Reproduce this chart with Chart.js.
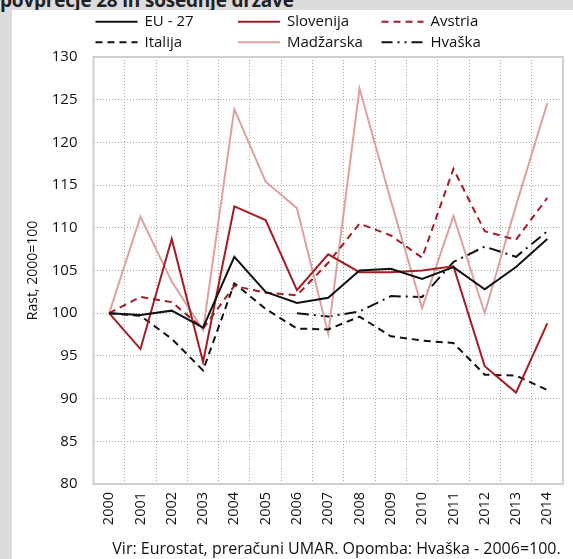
<!DOCTYPE html>
<html>
<head>
<meta charset="utf-8">
<script src="https://cdn.jsdelivr.net/npm/chart.js@4"></script>
<style>
  html, body { margin: 0; padding: 0; }
  body { width: 573px; height: 559px; background: #dcdcdc; position: relative; overflow: hidden;
         font-family: 'Open Sans', sans-serif; }
  #title { position: absolute; left: 0; top: -13px; font: bold 19px 'Open Sans', sans-serif;
           color: #222; white-space: nowrap; letter-spacing: -0.2px; }
  #panel { position: absolute; left: 12px; top: 10px; width: 561px; height: 549px; background: #fff; }
  #wrap { position: absolute; left: 0; top: 0; width: 561px; height: 530px; }
  #note { position: absolute; left: 0; width: 649px; top: 527px; text-align: center;
          font-size: 16px; color: #111; white-space: nowrap; }
</style>
</head>
<body>
<div id="title">povprečje 28 in sosednje države</div>
<div id="panel">
  <div id="wrap"><canvas id="chart" width="561" height="530"></canvas></div>
  <div id="note">Vir: Eurostat, preračuni UMAR. Opomba: Hvaška - 2006=100.</div>
</div>
<script>
(function () {
  'use strict';

  /* ── Data ──────────────────────────────────────────────── */
  const years     = ['2000','2001','2002','2003','2004','2005','2006','2007',
                     '2008','2009','2010','2011','2012','2013','2014'];
  const eu27      = [100, 99.8, 100.3, 98.3, 106.6, 102.5, 101.2, 101.8, 105.0, 105.2, 104.0, 105.4, 102.8, 105.4, 108.7];
  const slovenija = [100, 95.8, 108.7, 94.3, 112.5, 110.9, 102.7, 106.9, 104.8, 104.8, 105.0, 105.5, 93.8, 90.7, 98.8];
  const avstria   = [100, 101.9, 101.3, 98.2, 103.2, 102.4, 102.1, 105.9, 110.5, 109.1, 106.5, 116.9, 109.6, 108.6, 113.5];
  const italija   = [100, 99.7, 97.0, 93.3, 103.5, 100.5, 98.2, 98.1, 99.6, 97.3, 96.8, 96.5, 92.8, 92.7, 91.0];
  const madzarska = [100, 111.3, 103.7, 98.0, 123.9, 115.4, 112.3, 97.6, 126.3, 113.2, 100.6, 111.4, 100.0, 112.6, 124.6];
  const hrvaska   = [null, null, null, null, null, null, 100.0, 99.6, 100.2, 102.0, 101.9, 106.0, 107.8, 106.6, 109.6];

  const yMin = 80, yMax = 130, yStep = 5;

  const RED  = '#a51d24';
  const PINK = '#dfa0a0';
  const BLK  = '#111111';
  const FONT = "'Open Sans', sans-serif";

  Chart.defaults.font.family = FONT;
  Chart.defaults.color = '#111';

  /* ── Grid legend: 3 columns × 2 rows ───────────────────── */
  const legendGrid = {
    id: 'legendGrid',
    afterDraw(chart) {
      const ctx  = chart.ctx;
      const cols = [83.5, 226, 369.5];
      const rows = [11.7, 32.3];
      ctx.save();
      ctx.font = '15px ' + FONT;
      ctx.textBaseline = 'middle';
      ctx.fillStyle = '#111';
      chart.data.datasets.forEach((ds, k) => {
        const x = cols[k % 3], y = rows[Math.floor(k / 3)];
        ctx.beginPath();
        ctx.strokeStyle = ds.borderColor;
        ctx.lineWidth = ds.borderWidth;
        ctx.setLineDash(ds.legendDash || ds.borderDash || []);
        ctx.moveTo(x, y);
        ctx.lineTo(x + 42, y);
        ctx.stroke();
        ctx.setLineDash([]);
        ctx.fillText(ds.label, x + 49, y);
      });
      ctx.restore();
    }
  };

  /* ── Plot frame ────────────────────────────────────────── */
  const frame = {
    id: 'frame',
    beforeDatasetsDraw(chart) {
      const a = chart.chartArea, ctx = chart.ctx;
      ctx.save();
      ctx.strokeStyle = '#cfcfcf';
      ctx.lineWidth = 2;
      ctx.strokeRect(a.left, a.top, a.right - a.left, a.bottom - a.top);
      ctx.restore();
    }
  };

  function line(label, data, color, dash, extra) {
    return Object.assign({
      label, data,
      borderColor: color,
      backgroundColor: color,
      borderWidth: 2,
      borderDash: dash,
      pointRadius: 0,
      tension: 0,
      fill: false,
      spanGaps: false,
    }, extra || {});
  }

  new Chart(document.getElementById('chart'), {
    type: 'line',
    data: {
      labels: years,
      datasets: [
        line('EU - 27',   eu27,      BLK,  []),
        line('Slovenija', slovenija, RED,  []),
        line('Avstria',   avstria,   RED,  [7, 5]),
        line('Italija',   italija,   BLK,  [7, 5]),
        line('Madžarska', madzarska, PINK, []),
        line('Hvaška',    hrvaska,   BLK,  [12, 5, 2, 5], { legendDash: [11, 5, 2, 5, 2, 5] }),
      ]
    },
    options: {
      responsive: false,
      animation: false,
      layout: { padding: { left: 0, right: 9, top: 47, bottom: 0 } },
      plugins: {
        legend:  { display: false },
        tooltip: { enabled: false }
      },
      scales: {
        x: {
          offset: true,
          afterFit: s => { s.height = 56; },
          grid: { offset: true, color: '#a8a8a8', lineWidth: 1, drawTicks: false },
          border: { display: false, dash: [1, 2] },
          ticks: { maxRotation: 90, minRotation: 90, padding: 8, font: { size: 14.5 }, color: '#111', autoSkip: false }
        },
        y: {
          min: yMin, max: yMax,
          afterFit: s => { s.width = 81.5; },
          grid: { color: '#a8a8a8', lineWidth: 1, drawTicks: false },
          border: { display: false, dash: [1, 2] },
          ticks: { stepSize: yStep, padding: 16, font: { size: 15 }, color: '#111' },
          title: { display: true, text: 'Rast, 2000=100', font: { size: 14 }, color: '#111', padding: { top: 12.6, bottom: 0 } }
        }
      }
    },
    plugins: [frame, legendGrid]
  });
})();
</script>
</body>
</html>
